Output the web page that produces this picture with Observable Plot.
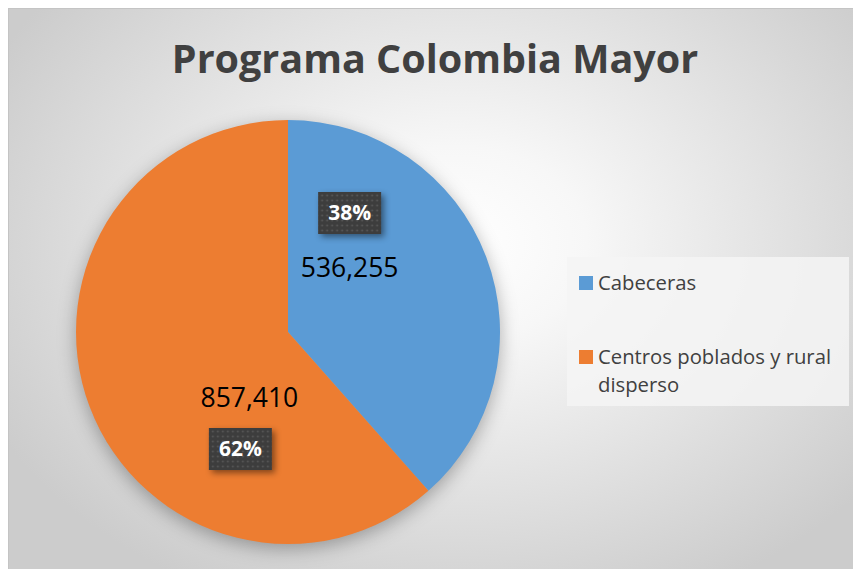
<!DOCTYPE html>
<html>
<head>
<meta charset="utf-8">
<script src="https://cdn.jsdelivr.net/npm/d3@7"></script>
<script src="https://cdn.jsdelivr.net/npm/@observablehq/plot@0.6"></script>
<style>
  html, body { margin: 0; padding: 0; background: #ffffff; }
  body { width: 853px; height: 569px; position: relative; overflow: hidden; font-family: "Open Sans", "Noto Sans", sans-serif; }
  #frame {
    position: absolute; left: 8px; top: 8px; width: 845px; height: 561px;
    box-sizing: border-box; border-left: 1px solid #c4c4c4; border-top: 1px solid #c4c4c4;
    background: radial-gradient(ellipse 62% 70% at 53% 42%, #ffffff 0%, #f7f7f7 25%, #e3e3e3 60%, #cccccc 100%);
  }
  #title {
    position: absolute; left: 0; top: 30px; width: 100%; text-align: center;
    padding-left: 8px; box-sizing: border-box;
    font-family: "Open Sans", sans-serif; font-weight: 700; font-size: 39.5px; line-height: 1; color: #404040;
  }
  #pie { position: absolute; left: 68px; top: 112px; }
  #pie svg { overflow: visible; }
  #legend {
    position: absolute; left: 567px; top: 257px; width: 282px; height: 149px;
    background: rgba(244,244,244,0.85);
    font-family: "Open Sans", sans-serif; font-size: 20.3px; color: #404040; line-height: 28px;
  }
  .item { position: absolute; left: 12px; padding-left: 19px; white-space: nowrap; }
  .sw { position: absolute; left: 0; top: 8px; width: 14px; height: 14px; }
</style>
</head>
<body>
<div id="frame">
  <div id="title"></div>
</div>
<div id="pie"></div>
<div id="legend"></div>
<script>
const title = "Programa Colombia Mayor";
const categories = ["Cabeceras", "Centros poblados y rural disperso"];
const values = [536255, 857410];
const colors = ["#5B9BD5", "#ED7D31"];

document.getElementById("title").textContent = title;

const table = categories.map((name, i) => ({name, value: values[i], color: colors[i]}));
const total = d3.sum(values);
const arcs = d3.pie().sort(null).value(d => d.value)(table);

const labels = arcs.map(a => {
  const mid = (a.startAngle + a.endAngle) / 2;
  return {
    name: a.data.name,
    x: 0.5 * Math.sin(mid),
    y: 0.5 * Math.cos(mid),
    valueText: d3.format(",")(a.data.value),
    pctText: d3.format(".0%")(a.data.value / total)
  };
});

// manual label offsets (px) as in the original layout
const valueOffset = [[-38, -26], [60, 28]];
const pctOffset = [[-38, -82], [51, 79]];

const ns = "http://www.w3.org/2000/svg";

// Pie slices: a render-function mark that uses Plot's x/y scales for center and radius
function sliceMark(index, scales) {
  const cx = scales.x(0), cy = scales.y(0);
  const r = Math.abs(scales.x(1) - scales.x(0));
  const g = document.createElementNS(ns, "g");
  g.setAttribute("transform", `translate(${cx},${cy})`);
  g.setAttribute("style", "filter: drop-shadow(0px 5px 9px rgba(0,0,0,0.3))");
  const arcGen = d3.arc().innerRadius(0).outerRadius(r);
  arcs.forEach(a => {
    const p = document.createElementNS(ns, "path");
    p.setAttribute("d", arcGen(a));
    p.setAttribute("fill", a.data.color);
    g.appendChild(p);
  });
  return g;
}

const boxSymbol = { draw(ctx) { ctx.rect(-31.5, -21, 63, 42); } };

const marks = [sliceMark];
labels.forEach((l, i) => {
  marks.push(Plot.text([l], {x: "x", y: "y", text: "valueText", dx: valueOffset[i][0], dy: valueOffset[i][1],
    fill: "#000000", fontSize: 26.5, fontFamily: "Open Sans, sans-serif"}));
  marks.push(Plot.dot([l], {x: "x", y: "y", dx: pctOffset[i][0], dy: pctOffset[i][1], symbol: boxSymbol, r: 10,
    fill: "#404041", stroke: "none"}));
  marks.push(Plot.text([l], {x: "x", y: "y", text: "pctText", dx: pctOffset[i][0], dy: pctOffset[i][1],
    fill: "#ffffff", fontSize: 21, fontWeight: 700, fontFamily: "Open Sans, sans-serif"}));
});

const chart = Plot.plot({
  width: 440, height: 440, margin: 8,
  x: {domain: [-1, 1], axis: null},
  y: {domain: [-1, 1], axis: null},
  style: {background: "transparent", overflow: "visible"},
  marks
});

// dotted texture + shadow for the percentage boxes
const defs = document.createElementNS(ns, "defs");
defs.innerHTML = '<pattern id="dots" width="5" height="5" patternUnits="userSpaceOnUse">' +
  '<rect width="5" height="5" fill="#3d3d3d"></rect><circle cx="2.5" cy="2.5" r="0.9" fill="#5c5c5c"></circle></pattern>';
chart.insertBefore(defs, chart.firstChild);
chart.querySelectorAll("[fill]").forEach(el => {
  if ((el.getAttribute("fill") || "").toLowerCase() === "#404041") {
    el.setAttribute("fill", "url(#dots)");
    el.style.filter = "drop-shadow(3px 3px 3px rgba(0,0,0,0.45))";
  }
});

document.getElementById("pie").appendChild(chart);

// legend
const legend = document.getElementById("legend");
const tops = [11, 85];
const legendTexts = ["Cabeceras", "Centros poblados y rural<br>disperso"];
categories.forEach((c, i) => {
  const it = document.createElement("div");
  it.className = "item";
  it.style.top = tops[i] + "px";
  it.innerHTML = '<span class="sw" style="background:' + colors[i] + '"></span>' + legendTexts[i];
  legend.appendChild(it);
});
</script>
</body>
</html>
